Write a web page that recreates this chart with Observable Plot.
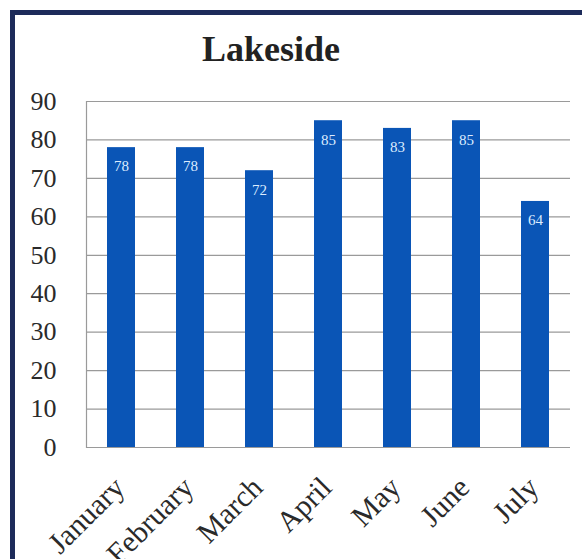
<!DOCTYPE html>
<html>
<head>
<meta charset="utf-8">
<script src="https://cdn.jsdelivr.net/npm/d3@7"></script>
<script src="https://cdn.jsdelivr.net/npm/@observablehq/plot@0.6"></script>
<style>
  html, body { margin: 0; padding: 0; background: #fff; overflow: hidden; width: 582px; height: 559px; }
  #frame { position: absolute; left: 10px; top: 10px; width: 700px; height: 700px; border: 5px solid #1d2b5a; box-sizing: border-box; }
  #title { position: absolute; left: 0; top: 31px; width: 542px; text-align: center; font-family: "Liberation Serif", serif; font-weight: bold; font-size: 36px; line-height: 36px; color: #222; }
  #chart { position: absolute; left: 0; top: 80px; }
</style>
</head>
<body>
<div id="frame"></div>
<div id="title">Lakeside</div>
<div id="chart"></div>
<script>
const months = ["January", "February", "March", "April", "May", "June", "July"];
const values = [78, 78, 72, 85, 83, 85, 64];
const yTicks = [0, 10, 20, 30, 40, 50, 60, 70, 80, 90];

const data = months.map((m, i) => ({month: m, value: values[i]}));
const font = "Liberation Serif, serif";

const chart = Plot.plot({
  width: 582,
  height: 479,
  marginTop: 21,
  marginBottom: 112,
  marginLeft: 86,
  marginRight: 12,
  style: {fontFamily: font, background: "transparent", overflow: "visible"},
  x: {domain: months, paddingInner: 0.6, paddingOuter: 0.3},
  y: {domain: [0, 90]},
  marks: [
    Plot.ruleY(yTicks, {stroke: "#9a9a9a", strokeWidth: 1.2}),
    Plot.frame({anchor: "left", stroke: "#9a9a9a", strokeWidth: 1.2}),
    Plot.barY(data, {x: "month", y: "value", fill: "#0a55b6"}),
    Plot.text(data, {x: "month", y: "value", text: d => String(d.value), dy: 19, fill: "#dcecff", fontSize: 15, fontFamily: font}),
    Plot.axisY({ticks: yTicks, tickSize: 0, tickPadding: 30, label: null, fontSize: 26, fill: "#2a2a2a", fontFamily: font}),
    Plot.axisX({tickRotate: -45, tickSize: 0, tickPadding: 35, dx: -2, label: null, fontSize: 30, fill: "#2a2a2a", fontFamily: font})
  ]
});
document.getElementById("chart").appendChild(chart);
</script>
</body>
</html>
